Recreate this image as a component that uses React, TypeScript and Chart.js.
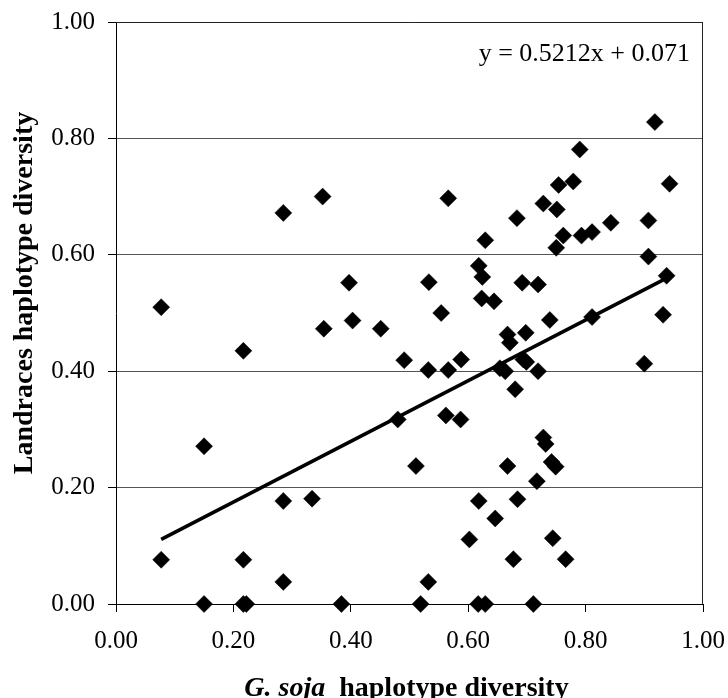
import { useEffect, useRef } from "react";
import { Chart, registerables } from "chart.js";

Chart.register(...registerables);

// G. soja haplotype diversity (x) for each locus
const GSOJA_DIVERSITY = [
  0.285, 0.352, 0.397, 0.077, 0.403, 0.354, 0.451, 0.918, 0.79, 0.779,
  0.754, 0.943, 0.566, 0.728, 0.751, 0.683, 0.843, 0.907, 0.629, 0.762,
  0.793, 0.811, 0.75, 0.907, 0.618, 0.624, 0.533, 0.692, 0.719, 0.938,
  0.623, 0.644, 0.554, 0.932, 0.811, 0.739, 0.667, 0.698, 0.671, 0.491,
  0.532, 0.566, 0.588, 0.654, 0.663, 0.694, 0.699, 0.719, 0.9, 0.68,
  0.48, 0.562, 0.587, 0.728, 0.732, 0.511, 0.667, 0.742, 0.749, 0.717,
  0.618, 0.684, 0.646, 0.602, 0.744, 0.677, 0.766, 0.532, 0.519, 0.617,
  0.629, 0.711, 0.217, 0.15, 0.285, 0.334, 0.077, 0.217, 0.285, 0.15,
  0.217, 0.222, 0.384,
];

// Landraces haplotype diversity (y) for each locus
const LANDRACE_DIVERSITY = [
  0.672, 0.7, 0.552, 0.51, 0.487, 0.473, 0.473, 0.828, 0.781, 0.726,
  0.72, 0.722, 0.697, 0.688, 0.678, 0.663, 0.655, 0.659, 0.625, 0.633,
  0.633, 0.639, 0.612, 0.597, 0.581, 0.562, 0.553, 0.552, 0.549, 0.564,
  0.525, 0.52, 0.5, 0.497, 0.493, 0.488, 0.463, 0.466, 0.449, 0.419,
  0.402, 0.402, 0.42, 0.405, 0.4, 0.42, 0.416, 0.4, 0.413, 0.369,
  0.317, 0.324, 0.317, 0.286, 0.275, 0.237, 0.237, 0.244, 0.236, 0.211,
  0.177, 0.18, 0.147, 0.111, 0.113, 0.077, 0.077, 0.038, 0, 0,
  0, 0, 0.435, 0.271, 0.177, 0.181, 0.076, 0.076, 0.038, 0,
  0, 0, 0,
];

const AXIS_TICKS = [0, 0.2, 0.4, 0.6, 0.8, 1.0];

const TREND_SLOPE = 0.5212;
const TREND_INTERCEPT = 0.071;
const EQUATION_LABEL = "y = 0.5212x + 0.071";

const X_TITLE_ITALIC = "G. soja";
const X_TITLE_REST = "  haplotype diversity";
const Y_TITLE = "Landraces haplotype diversity";

const SERIF = '"Liberation Serif", "Times New Roman", serif';

const overlayPlugin = {
  id: "overlay",
  beforeDatasetsDraw(chart: any) {
    const { ctx, chartArea } = chart;
    ctx.save();
    ctx.strokeStyle = "#222";
    ctx.lineWidth = 1;
    ctx.beginPath();
    ctx.moveTo(chartArea.left, Math.round(chartArea.top) + 0.5);
    ctx.lineTo(chartArea.right, Math.round(chartArea.top) + 0.5);
    ctx.moveTo(Math.round(chartArea.right) - 0.5, chartArea.top);
    ctx.lineTo(Math.round(chartArea.right) - 0.5, chartArea.bottom);
    ctx.stroke();
    ctx.restore();
  },
  afterDraw(chart: any) {
    const { ctx, chartArea } = chart;
    ctx.save();
    ctx.fillStyle = "#000";

    // regression equation
    ctx.font = `26px ${SERIF}`;
    ctx.textAlign = "right";
    ctx.textBaseline = "alphabetic";
    ctx.fillText(EQUATION_LABEL, chartArea.right - 13, chartArea.top + 39);

    // x-axis title (mixed italic / bold)
    const titleSize = 28;
    ctx.textAlign = "left";
    ctx.font = `italic bold ${titleSize}px ${SERIF}`;
    const w1 = ctx.measureText(X_TITLE_ITALIC).width;
    ctx.font = `bold ${titleSize}px ${SERIF}`;
    const w2 = ctx.measureText(X_TITLE_REST).width;
    const cx = (chartArea.left + chartArea.right) / 2 - 3;
    const x0 = cx - (w1 + w2) / 2;
    const baseY = chartArea.bottom + 92;
    ctx.font = `italic bold ${titleSize}px ${SERIF}`;
    ctx.fillText(X_TITLE_ITALIC, x0, baseY);
    ctx.font = `bold ${titleSize}px ${SERIF}`;
    ctx.fillText(X_TITLE_REST, x0 + w1, baseY);

    // y-axis title
    ctx.translate(32, chartArea.top + 271);
    ctx.rotate(-Math.PI / 2);
    ctx.textAlign = "center";
    ctx.font = `bold ${titleSize}px ${SERIF}`;
    ctx.fillText(Y_TITLE, 0, 0);
    ctx.restore();
  },
};

export default function App() {
  const ref = useRef<HTMLCanvasElement>(null);

  useEffect(() => {
    document.body.style.margin = "0";
    const canvas = ref.current;
    if (!canvas) return;

    const points = GSOJA_DIVERSITY.map((x, i) => ({ x, y: LANDRACE_DIVERSITY[i] }));
    const xMin = Math.min(...GSOJA_DIVERSITY);
    const xMax = Math.max(...GSOJA_DIVERSITY);
    const trend = [
      { x: xMin, y: TREND_SLOPE * xMin + TREND_INTERCEPT },
      { x: xMax, y: TREND_SLOPE * xMax + TREND_INTERCEPT },
    ];

    const tickFont = { family: SERIF, size: 25 };
    const setTicks = (s: any) => {
      s.ticks = AXIS_TICKS.map((v) => ({ value: v }));
    };
    const clearPadding = (s: any) => {
      s.paddingTop = 0;
      s.paddingBottom = 0;
      s.paddingLeft = 0;
      s.paddingRight = 0;
    };

    const chart = new Chart(canvas, {
      type: "scatter",
      data: {
        datasets: [
          {
            type: "line",
            data: trend,
            borderColor: "#000",
            borderWidth: 3.5,
            pointRadius: 0,
            pointHoverRadius: 0,
            showLine: true,
            fill: false,
            clip: false,
          } as any,
          {
            data: points,
            pointStyle: "rectRot",
            pointRadius: 8.5,
            pointHoverRadius: 8.5,
            backgroundColor: "#000",
            borderColor: "#000",
            borderWidth: 0.5,
            clip: false,
          } as any,
        ],
      },
      options: {
        responsive: false,
        animation: false,
        events: [],
        layout: { padding: { top: 22, right: 25, left: 0, bottom: 0 } },
        plugins: {
          legend: { display: false },
          tooltip: { enabled: false },
        },
        scales: {
          x: {
            type: "linear",
            min: 0,
            max: 1,
            afterBuildTicks: setTicks,
            afterFit: (s: any) => {
              s.height = 94;
              clearPadding(s);
            },
            ticks: {
              font: tickFont,
              color: "#000",
              padding: 14,
              maxRotation: 0,
              callback: (v: any) => Number(v).toFixed(2),
            },
            grid: {
              drawOnChartArea: false,
              drawTicks: true,
              tickLength: 8,
              color: "#000",
            },
            border: { color: "#000", width: 1 },
          },
          y: {
            type: "linear",
            min: 0,
            max: 1,
            afterBuildTicks: setTicks,
            afterFit: (s: any) => {
              s.width = 116;
              clearPadding(s);
            },
            ticks: {
              font: tickFont,
              color: "#000",
              padding: 13,
              callback: (v: any) => Number(v).toFixed(2),
            },
            grid: {
              color: "#555",
              tickColor: "#000",
              tickLength: 8,
              lineWidth: 1,
            },
            border: { color: "#000", width: 1 },
          },
        },
      } as any,
      plugins: [overlayPlugin],
    });

    return () => chart.destroy();
  }, []);

  return <canvas ref={ref} width={728} height={698} style={{ display: "block" }} />;
}
